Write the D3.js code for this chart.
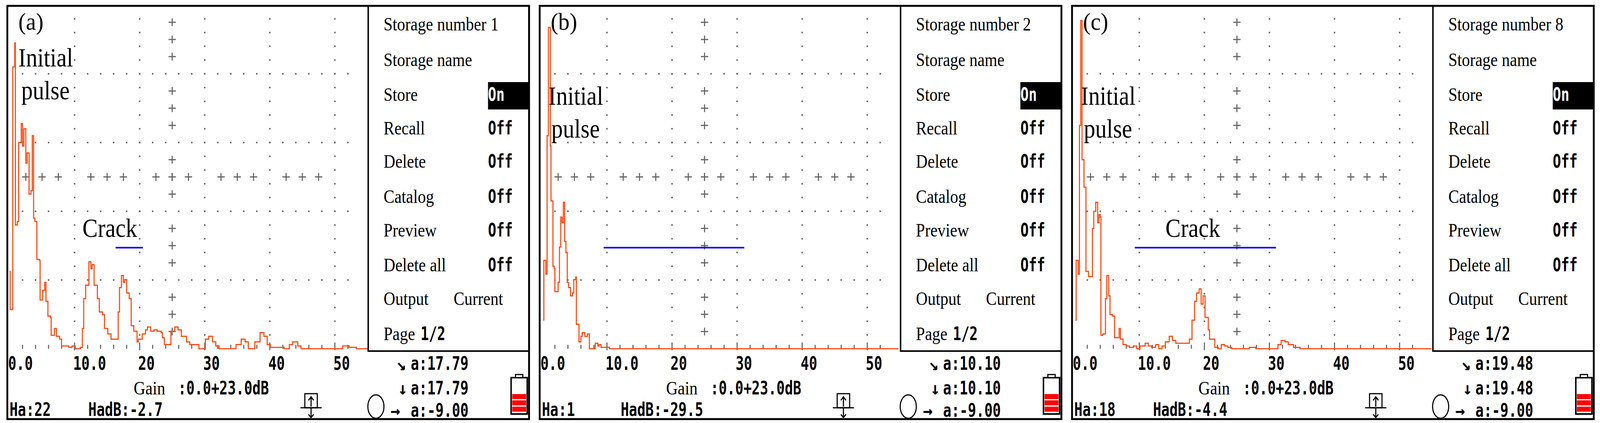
<!DOCTYPE html>
<html><head><meta charset="utf-8">
<script src="https://cdn.jsdelivr.net/npm/d3@7"></script>
<style>html,body{margin:0;padding:0;background:#fff;overflow:hidden}svg{display:block}</style>
</head><body>
<script>
// ---------- DATA ----------
const panelLabels = ["(a)", "(b)", "(c)"];
const storageNumbers = ["1", "2", "8"];
const cursorA = ["17.79", "10.10", "19.48"];
const haValues = ["22", "1", "18"];
const hadbValues = ["-2.7", "-29.5", "-4.4"];
const xTickValues = [0, 10, 20, 30, 40, 50];
const xTickLabels = ["0.0", "10.0", "20", "30", "40", "50"];
const menuItems = ["Storage number", "Storage name", "Store", "Recall", "Delete", "Catalog", "Preview", "Delete all", "Output", "Page"];
const menuValues = ["", "", "On", "Off", "Off", "Off", "Off", "Off", "Current", "1/2"];
// gate (blue line): [start, end, amplitude %]
const gates = [[16.3, 20.5, 29.4], [9.5, 31.1, 29.4], [9.3, 31.0, 29.4]];
const crackShown = [true, false, true];
// A-scan traces: [position, amplitude %]
const traceA = [[0.0,22.5],[0.1,11.4],[0.5,82],[0.8,89],[0.9,36],[1.2,37],[1.4,60],[1.8,65.5],[2.0,59],[2.2,64],[2.5,54],[2.7,57],[3.0,45],[3.3,46],[3.5,62],[3.7,38],[3.9,37],[4.2,26],[4.6,25.7],[4.7,14.2],[5.1,17],[5.4,19.3],[5.6,13.8],[5.9,9.5],[6.3,9.1],[6.4,3.9],[6.9,5.9],[7.2,3.6],[7.7,2.8],[8.0,0.8],[8.5,0.8],[9.1,0.4],[9.6,0.8],[10.1,0],[10.9,0.4],[11.2,5.9],[11.4,14.6],[11.7,18.5],[12.2,25.3],[12.5,23.3],[12.7,24.5],[13.0,18.5],[13.5,14.6],[13.8,10.7],[14.3,9.9],[14.6,5.9],[15.1,4.3],[15.6,2.8],[16.2,2.8],[16.7,10.7],[16.9,17.8],[17.2,21.3],[17.5,19.3],[17.7,20.1],[18.0,16.2],[18.4,14.6],[18.7,6.7],[19.1,5.1],[19.6,2],[19.8,2.8],[20.4,4.3],[20.9,5.5],[21.2,6.3],[21.7,5.1],[22.2,5.5],[22.7,5.1],[23.3,4.7],[23.5,3.2],[23.8,1.2],[24.3,1.2],[24.8,5.1],[25.4,6.3],[25.9,5.5],[26.4,3.6],[27.2,2],[27.7,1.2],[28.5,1.2],[29.1,0],[29.6,0],[30.1,2.8],[30.6,3.6],[31.2,2],[31.7,0.8],[32.2,0],[34.3,0],[34.8,1.2],[35.6,2.8],[36.2,2],[36.7,0],[37.2,0],[37.7,2],[38.5,4.7],[39.1,3.6],[39.6,1.2],[40.1,0.4],[41.2,0.4],[42.2,0],[43.0,1.2],[43.5,2],[44.3,0.8],[44.8,0],[49.1,0],[50.1,0],[51.2,0.8],[52.2,0.4],[53.3,0],[55.1,0]];
const traceB = [[0.2,8.3],[0.3,25.7],[0.6,21.7],[0.8,62],[1.0,93.5],[1.3,59],[1.4,43],[1.7,24],[1.9,23.3],[2.0,16.6],[2.3,16.6],[2.5,19.3],[2.7,29.6],[2.9,38.3],[3.1,36.7],[3.3,42.6],[3.5,31.2],[3.7,28],[3.9,19.3],[4.1,17.8],[4.4,15.4],[4.7,16.2],[4.9,20.1],[5.2,20.9],[5.3,7.1],[5.7,2],[6.0,3.6],[6.2,4.7],[6.6,3.6],[7.0,4.3],[7.3,0],[7.8,0],[8.2,1.6],[8.6,0.8],[8.8,1.2],[9.1,0.4],[9.6,0.4],[10.4,0],[12.3,0],[13.8,0],[14.3,0],[54.8,0]];
const traceC = [[0.2,8.3],[0.3,25.7],[0.6,21.7],[0.8,65],[1.0,95.5],[1.2,55],[1.5,47],[1.8,22.5],[2.2,21],[2.5,21],[2.8,35],[3.0,40],[3.3,42.6],[3.6,36.7],[3.8,39],[4.0,38.3],[4.1,3.9],[4.4,4.3],[4.8,14.6],[5.0,21.3],[5.3,15.4],[5.5,9.9],[5.9,9.5],[6.2,3.2],[6.9,5.9],[7.1,2.8],[7.5,1.2],[8.0,0.8],[8.5,0.4],[9.1,0.8],[9.6,0],[10.1,0.8],[10.9,1.6],[11.4,0.8],[11.9,0.4],[12.5,1.2],[13.0,0],[13.5,0.8],[14.0,2],[14.6,3.6],[15.1,2.4],[15.6,1.6],[16.4,1.6],[17.2,1.6],[17.7,2.8],[18.1,8.3],[18.5,13.8],[18.8,16.2],[19.2,17.4],[19.5,13],[19.8,15.4],[20.1,9.1],[20.6,5.5],[20.8,2.8],[21.2,2.8],[21.6,0.4],[22.1,0],[22.6,1.2],[23.1,0.8],[23.6,0.4],[24.2,0],[25.8,0],[26.9,0.4],[27.9,0],[30.8,0],[31.3,1.2],[31.8,2.4],[32.4,2],[32.9,1.2],[33.7,0.4],[34.7,0],[38.4,0],[42.0,0],[44.1,0],[45.7,0],[54.9,0]];
const traces = [traceA, traceB, traceC];

// ---------- DRAW ----------
const W = 4367, H = 1082;
const vw = window.innerWidth || W, vh = window.innerHeight || H;
const svg = d3.select("body").append("svg").attr("width", vw).attr("height", vh)
  .attr("viewBox", `0 0 ${W} ${H}`).attr("preserveAspectRatio", "none");
const serif = "'Liberation Serif', 'Times New Roman', serif";
const mono = "'DejaVu Sans Mono', 'Liberation Mono', monospace";
const offsets = [20, 1473, 2926];
const PW = 1424;

function mtext(g, x, y, s, size, opts = {}) {
  const t = g.append("text").attr("x", x).attr("y", y).attr("font-family", opts.family || mono)
    .attr("font-size", size).attr("fill", opts.fill || "#000").text(s);
  if (opts.bold) t.attr("font-weight", "bold");
  if (opts.sx) t.attr("transform", `translate(${x},0) scale(${opts.sx},1) translate(${-x},0)`);
  return t;
}

offsets.forEach((ox, i) => {
  const g = svg.append("g").attr("transform", `translate(${ox},0)`);
  const x = d3.scaleLinear().domain([0, 50]).range([6, 894]);
  const y = d3.scaleLinear().domain([0, 100]).range([892, 13]);
  const grey = "#666";

  const vDots = d3.range(4, 100, 4);
  [10, 20, 30, 40, 50].forEach(u => {
    g.selectAll(null).data(vDots).join("rect")
      .attr("x", x(u) - 2).attr("y", d => y(d) - 2).attr("width", 4).attr("height", 4).attr("fill", grey);
  });
  const hDots = d3.range(2, 54, 2);
  [20, 40, 60, 80].forEach(a => {
    g.selectAll(null).data(hDots).join("rect")
      .attr("x", d => x(d) - 2).attr("y", y(a) - 2).attr("width", 4).attr("height", 4).attr("fill", grey);
  });
  g.selectAll(null).data(d3.range(2, 54, 2)).join("line")
    .attr("x1", d => x(d)).attr("x2", d => x(d))
    .attr("y1", d => y(0) - (d % 10 === 0 ? 16 : 10)).attr("y2", d => y(0) + (d % 10 === 0 ? 4 : 0))
    .attr("stroke", grey).attr("stroke-width", 3);
  const colAmps = d3.range(5, 100, 5).filter(a => a % 20 !== 0);
  const rowPos = d3.range(2.5, 50, 2.5).filter(u => u % 10 !== 0);
  const crossPts = colAmps.map(a => [25, a]).concat(rowPos.map(u => [u, 50]));
  const cs = 10;
  crossPts.forEach(([u, a]) => {
    g.append("path").attr("d", `M${x(u) - cs},${y(a)}H${x(u) + cs}M${x(u)},${y(a) - cs}V${y(a) + cs}`)
      .attr("stroke", grey).attr("stroke-width", 3);
  });

  const gt = gates[i];
  g.append("line").attr("x1", x(gt[0])).attr("x2", x(gt[1])).attr("y1", y(gt[2])).attr("y2", y(gt[2]))
    .attr("stroke", "#0000ff").attr("stroke-width", 4);

  g.append("path").datum(traces[i])
    .attr("d", d3.line().x(d => x(d[0])).y(d => y(d[1])).curve(d3.curveStepAfter))
    .attr("fill", "none").attr("stroke", "#ff4a12").attr("stroke-width", 3);

  mtext(g, 30, 76, panelLabels[i], 62, { family: serif });
  const iy = i === 0 ? [170, 254] : [268, 352];
  mtext(g, i === 0 ? 30 : 24, iy[0], "Initial", 68, { family: serif, sx: 0.92 });
  mtext(g, i === 0 ? 38 : 32, iy[1], "pulse", 68, { family: serif, sx: 0.92 });
  if (crackShown[i]) mtext(g, i === 0 ? 205 : 255, 606, "Crack", 68, { family: serif, sx: 0.92 });

  g.append("rect").attr("x", 985).attr("y", 15).attr("width", PW - 985).attr("height", 883)
    .attr("fill", "#fff").attr("stroke", "#000").attr("stroke-width", 4);
  const rowY = [78, 169, 258, 344, 429, 519, 605, 694, 780, 870];
  g.append("rect").attr("x", 1312).attr("y", 210).attr("width", PW - 1312).attr("height", 70).attr("fill", "#000");
  menuItems.forEach((m, k) => {
    mtext(g, 1027, rowY[k], m + (k === 0 ? "  " + storageNumbers[i] : ""), 48, { family: serif, sx: 0.92 });
    const v = menuValues[k];
    if (!v) return;
    if (k === 8) mtext(g, 1218, rowY[k], v, 48, { family: serif, sx: 0.92 });
    else if (k === 9) mtext(g, 1128, rowY[k], v, 48, { sx: 0.78, bold: true });
    else mtext(g, 1312, rowY[k], v, 48, { sx: 0.78, bold: true, fill: k === 2 ? "#fff" : "#000" });
  });

  xTickValues.forEach((v, k) => mtext(g, x(v) - 4, 946, xTickLabels[k], 48, { sx: 0.78, bold: true }));

  mtext(g, 1062, 946, "↘", 44, { bold: true });
  mtext(g, 1101, 946, "a:" + cursorA[i], 48, { sx: 0.78, bold: true });
  mtext(g, 1066, 1009, "↓", 44, { bold: true });
  mtext(g, 1101, 1009, "a:" + cursorA[i], 48, { sx: 0.78, bold: true });
  mtext(g, 1046, 1066, "→", 44, { bold: true });
  mtext(g, 1101, 1066, "a:-9.00", 48, { sx: 0.78, bold: true });
  g.append("ellipse").attr("cx", 1006).attr("cy", 1040).attr("rx", 22).attr("ry", 30).attr("fill", "none").attr("stroke", "#000").attr("stroke-width", 3);

  mtext(g, 345, 1009, "Gain", 48, { family: serif, sx: 0.92 });
  mtext(g, 466, 1009, ":0.0+23.0dB", 48, { sx: 0.78, bold: true });
  mtext(g, 6, 1064, "Ha:" + haValues[i], 48, { sx: 0.78, bold: true });
  mtext(g, 221, 1064, "HadB:" + hadbValues[i], 48, { sx: 0.78, bold: true });

  g.append("rect").attr("x", 812).attr("y", 1007).attr("width", 34).attr("height", 36).attr("fill", "none").attr("stroke", "#000").attr("stroke-width", 3);
  g.append("path").attr("d", "M800,1043H858M829,1043V1068M829,1015V1040M822,1024L829,1015L836,1024M822,1060L829,1068L836,1060")
    .attr("fill", "none").attr("stroke", "#000").attr("stroke-width", 3);

  g.append("rect").attr("x", 1375).attr("y", 966).attr("width", 44).attr("height", 93).attr("fill", "#fff").attr("stroke", "#000").attr("stroke-width", 4);
  g.append("rect").attr("x", 1387).attr("y", 958).attr("width", 20).attr("height", 8).attr("fill", "#fff").attr("stroke", "#000").attr("stroke-width", 3);
  [1008, 1024, 1040].forEach(yy => g.append("rect").attr("x", 1378).attr("y", yy).attr("width", 38).attr("height", 13).attr("fill", "#ff0000"));

  g.append("rect").attr("x", 0).attr("y", 15).attr("width", PW).attr("height", 1057).attr("fill", "none").attr("stroke", "#000").attr("stroke-width", 5);
});
</script>
</body></html>
